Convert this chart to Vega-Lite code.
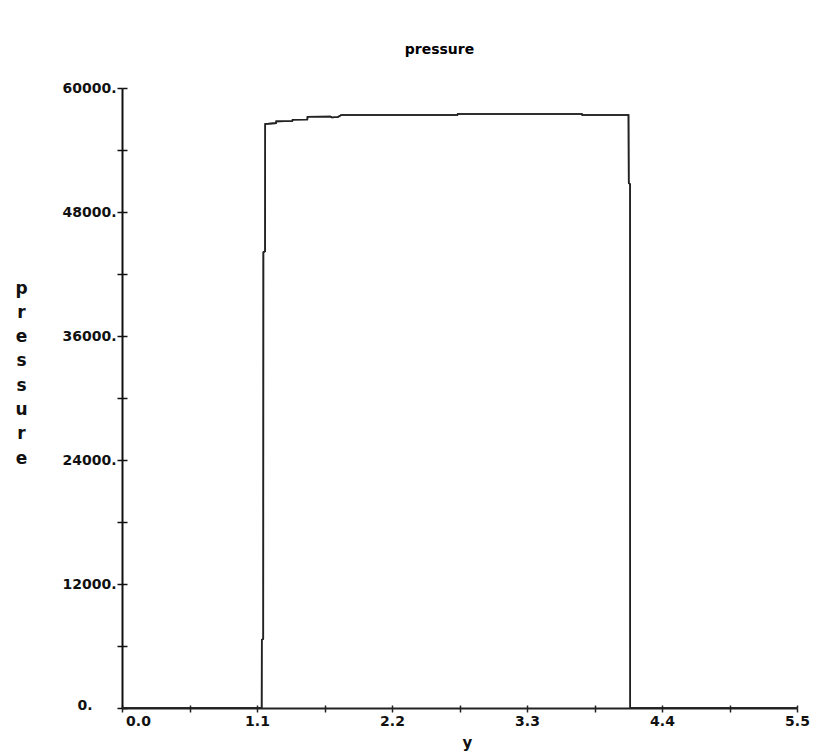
{
  "$schema": "https://vega.github.io/schema/vega-lite/v6.json",
  "autosize": {"type": "none"},
  "padding": {"left": 122, "top": 88, "right": 16, "bottom": 43},
  "width": 675,
  "height": 620,
  "background": "white",
  "config": {
    "view": {"stroke": null},
    "axis": {"labelFont": "DejaVu Sans", "titleFont": "DejaVu Sans", "grid": false}
  },
  "title": {
    "text": "pressure",
    "font": "DejaVu Sans",
    "fontSize": 14,
    "fontWeight": "bold",
    "color": "#000",
    "anchor": "middle",
    "offset": 24,
    "dx": -20
  },
  "data": {
    "values": [
      {"y": 0, "pressure": 0},
      {"y": 1.138, "pressure": 0},
      {"y": 1.139, "pressure": 6600},
      {"y": 1.151, "pressure": 6700},
      {"y": 1.152, "pressure": 44100},
      {"y": 1.166, "pressure": 44200},
      {"y": 1.167, "pressure": 56520},
      {"y": 1.255, "pressure": 56600},
      {"y": 1.257, "pressure": 56770},
      {"y": 1.388, "pressure": 56800},
      {"y": 1.39, "pressure": 56935},
      {"y": 1.51, "pressure": 56950},
      {"y": 1.512, "pressure": 57220},
      {"y": 1.7, "pressure": 57230},
      {"y": 1.71, "pressure": 57150},
      {"y": 1.76, "pressure": 57200},
      {"y": 1.786, "pressure": 57387},
      {"y": 2.733, "pressure": 57400},
      {"y": 2.735, "pressure": 57484},
      {"y": 3.748, "pressure": 57490},
      {"y": 3.75, "pressure": 57400},
      {"y": 4.127, "pressure": 57387},
      {"y": 4.129, "pressure": 50800},
      {"y": 4.14, "pressure": 50700},
      {"y": 4.141, "pressure": 0},
      {"y": 5.5, "pressure": 0}
    ]
  },
  "resolve": {"axis": {"x": "independent", "y": "independent"}},
  "layer": [
    {
      "mark": {"type": "line", "color": "#222", "strokeWidth": 1.6, "clip": false},
      "encoding": {
        "x": {
          "field": "y",
          "type": "quantitative",
          "scale": {"domain": [0, 5.5], "nice": false, "zero": false},
          "axis": {
            "orient": "bottom",
            "values": [0, 0.55, 1.1, 1.65, 2.2, 2.75, 3.3, 3.85, 4.4, 4.95, 5.5],
            "labelExpr": "indexof(['0','1.1','2.2','3.3','4.4','5.5'], toString(datum.value)) >= 0 ? format(datum.value, '.1f') : ''",
            "domainColor": "#222",
            "domainWidth": 2,
            "tickColor": "#222",
            "tickWidth": 1.5,
            "tickSize": 4,
            "labelFontSize": 14,
            "labelFontWeight": "bold",
            "labelColor": "#111",
            "labelPadding": 2,
            "labelBaseline": "top",
            "labelAlign": "center",
            "labelOffset": {"condition": {"test": "datum.value == 0", "value": 16}, "value": 0},
            "labelFlush": false,
            "labelOverlap": false,
            "labelBound": false,
            "title": "y",
            "titleFontSize": 15,
            "titleFontWeight": "bold",
            "titleColor": "#111",
            "titleX": 345,
            "titleY": 39,
            "titleBaseline": "alphabetic",
            "titleAlign": "center"
          }
        },
        "y": {
          "field": "pressure",
          "type": "quantitative",
          "scale": {"domain": [0, 60000], "nice": false, "zero": true},
          "axis": {
            "orient": "left",
            "values": [0, 6000, 12000, 18000, 24000, 30000, 36000, 42000, 48000, 54000, 60000],
            "labelExpr": "datum.value % 12000 == 0 ? format(datum.value, 'd') + '.' : ''",
            "domainColor": "#111",
            "domainWidth": 2,
            "tickColor": "#111",
            "tickWidth": 1.5,
            "tickSize": 5,
            "labelFontSize": 14,
            "labelFontWeight": "bold",
            "labelColor": "#111",
            "labelPadding": {"condition": {"test": "datum.value == 0", "value": 25}, "value": 1},
            "labelOffset": {"condition": {"test": "datum.value == 0", "value": -3}, "value": 0},
            "labelBaseline": "middle",
            "labelAlign": "right",
            "labelFlush": false,
            "labelOverlap": false,
            "labelBound": false,
            "title": ["p", "r", "e", "s", "s", "u", "r", "e"],
            "titleAngle": 0,
            "titleFontSize": 17,
            "titleFontWeight": "bold",
            "titleColor": "#111",
            "titleLineHeight": 24.3,
            "titleX": -101,
            "titleY": 192,
            "titleAlign": "center",
            "titleBaseline": "top"
          }
        }
      }
    },
    {
      "mark": {"type": "line", "color": "#222", "strokeWidth": 1.6, "clip": false},
      "encoding": {
        "x": {
          "field": "y",
          "type": "quantitative",
          "scale": {"domain": [0, 5.5], "nice": false, "zero": false},
          "axis": {
            "orient": "bottom",
            "values": [0, 0.55, 1.1, 1.65, 2.2, 2.75, 3.3, 3.85, 4.4, 4.95, 5.5],
            "labels": false,
            "domain": false,
            "title": null,
            "tickColor": "#222",
            "tickWidth": 1.5,
            "tickSize": -3
          }
        },
        "y": {
          "field": "pressure",
          "type": "quantitative",
          "scale": {"domain": [0, 60000], "nice": false, "zero": true},
          "axis": {
            "orient": "left",
            "values": [0, 6000, 12000, 18000, 24000, 30000, 36000, 42000, 48000, 54000, 60000],
            "labels": false,
            "domain": false,
            "title": null,
            "tickColor": "#111",
            "tickWidth": 1.5,
            "tickSize": -5
          }
        }
      }
    }
  ]
}
